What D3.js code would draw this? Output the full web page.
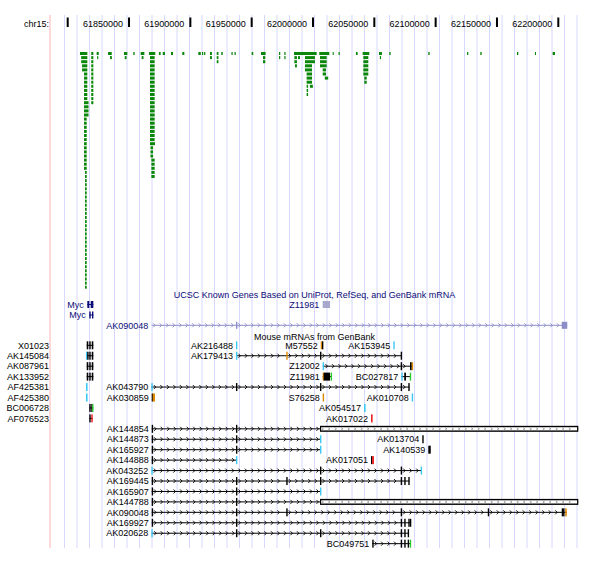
<!DOCTYPE html>
<html><head><meta charset="utf-8">
<script src="https://cdn.jsdelivr.net/npm/d3@7"></script>
<style>
body{margin:0;background:#fff}
text{font-family:"Liberation Sans",Arial,sans-serif;font-size:9px}
</style>
</head><body><svg id="c" width="600" height="576"></svg>
<script>
// ---------- data ----------
const chromName = "chr15:";
const baseKb = 61800; // positions below are kb offsets from this base
const rulerTicks = [61800000, 61850000, 61900000, 61950000, 62000000, 62050000, 62100000, 62150000, 62200000];
const rulerTickLabels = ["", "61850000", "61900000", "61950000", "62000000", "62050000", "62100000", "62150000", "62200000"];

// green stacked track: [startKb, endKb, firstRow, lastRow]
const greenStacks = [
 [10.0,16.0,0,0],[11.0,16.0,1,2],[11.7,16.0,3,4],[13.3,16.0,5,11],[13.3,17.0,12,15],[13.3,15.5,16,28],[14.1,15.5,29,57],
 [19.2,20.9,0,12],[23.6,25.3,0,0],[24.0,24.9,1,1],[32.9,35.9,0,0],[34.5,36.0,1,1],
 [45.9,48.6,0,0],[46.5,48.0,1,1],[53.5,54.6,0,0],[59.5,62.5,0,0],[60.3,61.8,1,1],
 [66.3,71.4,0,0],[67.1,70.9,1,21],[67.1,71.2,22,22],[67.5,69.6,23,25],[68.2,70.9,26,30],
 [74.4,75.8,0,0],[77.5,79.3,0,0],[84.2,85.9,0,0],[93.4,95.1,0,0],
 [106.5,108.5,0,0],[109.5,110.5,0,0],[111.2,112.2,0,0],[116.0,117.6,0,1],
 [121.5,122.9,0,2],[125.2,126.4,0,0],[133.5,134.5,0,0],[136.0,137.0,0,0],
 [150.0,151.3,0,0],[157.6,161.4,0,0],[159.2,161.1,1,2],[172.3,173.3,0,1],[176.6,177.6,0,1],
 [184.5,203.0,0,0],[184.8,186.9,1,2],[185.3,186.9,3,3],[187.8,189.4,1,1],
 [193.5,201.6,1,2],[193.5,199.2,3,4],[194.8,199.2,5,7],[194.8,196.0,8,10],[197.5,199.9,8,8],
 [205.1,213.3,0,0],[205.7,211.2,1,3],[207.9,210.6,4,5],[209.6,212.4,6,6],
 [216.0,216.9,0,0],[220.8,221.8,0,0],[235.0,236.4,0,0],
 [240.5,245.9,0,0],[241.0,245.1,1,5],[241.8,243.8,6,7],
 [253.8,256.2,0,0],[254.5,255.5,1,1],[262.2,263.3,0,0],
 [294.0,295.1,0,0],[325.6,326.6,0,0],[336.4,337.5,0,0],[366.3,367.4,0,0],[381.0,381.8,0,0],[395.4,397.3,0,0]
];

const knownTitle = "UCSC Known Genes Based on UniProt, RefSeq, and GenBank mRNA";
const knownGenes = [
 {name:"Myc", row:0, line:[16.0,20.9], blocks:[[16.0,17.6],[18.75,20.9]], color:"#0c0c78"},
 {name:"Z11981", row:0, line:null, blocks:[[207.9,213.9]], color:"#a8a8cc"},
 {name:"Myc", row:1, line:[17.6,20.9], blocks:[[17.6,18.6],[19.8,20.9]], color:"#0c0c78"},
 {name:"AK090048", row:2, line:[68.5,407.3], blocks:[[137.2,137.9],[402.8,407.3]], color:"#8c8cc8"}
];

const mrnaTitle = "Mouse mRNAs from GenBank";
const mrnaItems = [
 {name:"X01023", row:0, margin:true, line:[15.5,20.9], blocks:[[15.5,16.8,"k"],[17.6,18.6,"k"],[19.6,20.9,"k"]]},
 {name:"AK216488", row:0, blocks:[[137.2,138.0,"c"]]},
 {name:"M57552", row:0, blocks:[[206.3,207.3,"o"],[207.3,208.4,"k"]]},
 {name:"AK153945", row:0, blocks:[[265.5,266.6,"c"]]},
 {name:"AK145084", row:1, margin:true, line:[14.9,20.9], blocks:[[14.9,15.9,"c"],[15.9,16.8,"k"],[17.6,18.6,"k"],[19.6,20.9,"k"]]},
 {name:"AK179413", row:1, line:[137.2,272.3], blocks:[[137.2,138.0,"c"],[178.2,179.0,"o"],[205.7,206.5,"k"],[271.5,272.3,"k"]]},
 {name:"AK087961", row:2, margin:true, line:[15.5,20.9], blocks:[[15.5,16.8,"k"],[17.6,18.6,"k"],[19.6,20.9,"k"]]},
 {name:"Z12002", row:2, line:[207.9,281.3], blocks:[[207.9,209.0,"c"],[271.5,272.3,"k"],[279.1,280.5,"k"],[280.5,281.3,"o"]]},
 {name:"AK133952", row:3, margin:true, line:[15.5,20.9], blocks:[[15.5,16.8,"k"],[17.6,18.6,"k"],[19.6,20.9,"k"]]},
 {name:"Z11981", row:3, line:[207.9,215.3], blocks:[[207.9,208.7,"o"],[208.7,213.9,"k"],[214.4,215.3,"g"]]},
 {name:"BC027817", row:3, line:[272.0,279.7], blocks:[[272.0,272.8,"c"],[274.4,275.8,"k"],[278.9,279.7,"g"]]},
 {name:"AF425381", row:4, margin:true, blocks:[[14.9,16.2,"c"]]},
 {name:"AK043790", row:4, line:[68.2,278.5], blocks:[[68.2,69.0,"c"],[137.2,138.0,"k"],[205.7,206.5,"k"],[271.5,272.3,"k"],[277.7,278.5,"k"]]},
 {name:"AF425380", row:5, margin:true, blocks:[[14.9,16.2,"c"]]},
 {name:"AK030859", row:5, blocks:[[68.5,69.3,"k"],[69.3,71.2,"o"]]},
 {name:"S76258", row:5, blocks:[[207.9,208.9,"o"]]},
 {name:"AK010708", row:5, blocks:[[280.5,281.4,"c"]]},
 {name:"BC006728", row:6, margin:true, line:[17.6,20.9], blocks:[[17.6,18.4,"k"],[19.2,19.9,"k"],[19.9,20.9,"g"]]},
 {name:"AK054517", row:6, blocks:[[241.6,242.9,"c"]]},
 {name:"AF076523", row:7, margin:true, line:[17.6,20.4], blocks:[[17.6,18.6,"k"],[19.2,20.4,"r"]]},
 {name:"AK017022", row:7, blocks:[[247.3,248.6,"r"]]},
 {name:"AK144854", row:8, line:[68.5,416.3], blocks:[[68.5,69.3,"k"],[137.2,138.0,"k"]], big:[205.7,416.3]},
 {name:"AK144873", row:9, line:[68.5,206.5], blocks:[[68.5,69.2,"k"],[137.2,137.9,"k"],[205.7,206.5,"c"]]},
 {name:"AK013704", row:9, blocks:[[289.1,289.9,"k"]]},
 {name:"AK165927", row:10, line:[68.5,206.5], blocks:[[68.5,69.2,"k"],[137.2,138.0,"k"],[205.7,206.5,"c"]]},
 {name:"AK140539", row:10, blocks:[[294.0,296.0,"k"]]},
 {name:"AK144888", row:11, line:[68.5,138.0], blocks:[[68.5,69.2,"k"],[137.2,138.0,"c"]]},
 {name:"AK017051", row:11, blocks:[[247.3,248.2,"k"],[248.2,249.7,"r"]]},
 {name:"AK043252", row:12, line:[68.5,288.6], blocks:[[68.2,69.0,"c"],[205.7,206.5,"k"],[271.5,272.3,"k"],[287.8,288.6,"c"]]},
 {name:"AK169445", row:13, line:[68.5,278.5], blocks:[[68.5,69.2,"k"],[137.2,138.0,"k"],[178.2,179.0,"k"],[205.7,206.5,"k"],[271.5,272.3,"k"],[274.4,275.2,"k"],[277.7,278.5,"k"]]},
 {name:"AK165907", row:14, line:[68.5,206.5], blocks:[[68.5,69.2,"k"],[137.2,138.0,"k"],[205.7,206.5,"c"]]},
 {name:"AK144788", row:15, line:[68.5,416.3], blocks:[[68.5,69.2,"k"],[137.2,138.0,"k"]], big:[205.7,416.3]},
 {name:"AK090048", row:16, line:[68.5,406.9], blocks:[[68.5,69.2,"k"],[137.2,138.0,"k"],[178.2,179.0,"k"],[271.5,272.3,"k"],[342.5,343.3,"k"],[402.8,403.4,"k"],[403.9,404.5,"k"],[405.6,406.9,"o"]]},
 {name:"AK169927", row:17, line:[68.5,279.8], blocks:[[68.5,69.2,"k"],[137.2,138.0,"k"],[271.5,272.3,"k"],[274.4,275.2,"k"],[277.7,278.5,"k"],[279.0,279.8,"k"]]},
 {name:"AK020628", row:18, line:[68.5,278.0], blocks:[[68.2,69.3,"c"],[137.2,138.0,"k"],[205.7,206.5,"k"],[271.5,272.3,"k"],[274.4,275.2,"k"],[277.2,278.0,"k"]]},
 {name:"BC049751", row:19, line:[248.3,279.7], blocks:[[248.3,249.0,"k"],[271.5,272.3,"k"],[274.4,275.2,"k"],[277.2,278.1,"k"],[278.9,279.7,"g"]]}
];
const markColors = {k:"#000000", c:"#3cc8f5", o:"#dd8a00", r:"#ee2020", g:"#2ecc2e"};

// ---------- layout ----------
const svg = d3.select("#c");
const x = d3.scaleLinear().domain([0, 400]).range([67.7, 558.3]);
const bpX = bp => x(bp / 1000 - baseKb);
const dataLeft = 50, dataRight = 579, topY = 15, bottomY = 548;

// guidelines
svg.append("g").selectAll("line").data(d3.range(64.5, 578, 12.5)).join("line")
  .attr("x1", d => d).attr("x2", d => d).attr("y1", topY).attr("y2", bottomY)
  .attr("stroke", "#d8d8ff").attr("stroke-width", 1);
svg.append("line").attr("x1", dataLeft).attr("x2", dataLeft).attr("y1", topY).attr("y2", bottomY)
  .attr("stroke", "#ffb4b4").attr("stroke-width", 1);

// ruler
svg.append("text").attr("x", 49).attr("y", 27).attr("text-anchor", "end").text(chromName);
const rg = svg.append("g");
rg.selectAll("rect").data(rulerTicks).join("rect")
  .attr("x", d => bpX(d) - 1).attr("width", 2).attr("y", 17.5).attr("height", 9.5).attr("fill", "#000");
rg.selectAll("text").data(rulerTicks).join("text")
  .attr("x", d => bpX(d) - 6).attr("y", 27).attr("text-anchor", "end")
  .text((d, i) => rulerTickLabels[i]);

// green stacked track
const rowY0 = 52, rowStep = 4.1, rowH = 3;
const greenRects = [];
greenStacks.forEach(([s, e, r0, r1]) => { for (let r = r0; r <= r1; r++) greenRects.push({s, e, r}); });
svg.append("g").selectAll("rect").data(greenRects).join("rect")
  .attr("x", d => x(d.s)).attr("width", d => Math.max(1, x(d.e) - x(d.s)))
  .attr("y", d => rowY0 + d.r * rowStep).attr("height", rowH).attr("fill", "#0b870b");

// helpers
function chevrons(g, x1, x2, y, color, h) {
  const pts = d3.range(x1 + 3, x2 - 2, 6.5);
  g.selectAll(null).data(pts).join("path")
    .attr("d", p => `M${p - 1.5},${y - h}L${p + 0.5},${y}L${p - 1.5},${y + h}`)
    .attr("fill", "none").attr("stroke", color).attr("stroke-width", 0.9);
}
function drawLine(g, s, e, blocks, y, color) {
  g.append("line").attr("x1", x(s)).attr("x2", x(e)).attr("y1", y).attr("y2", y)
    .attr("stroke", color).attr("stroke-width", 1);
  const edges = [x(s)];
  blocks.slice().sort((a, b) => a[0] - b[0]).forEach(b => { edges.push(x(b[0])); edges.push(x(b[1])); });
  edges.push(x(e));
  for (let i = 0; i < edges.length - 1; i += 2) {
    const a = edges[i], b = edges[i + 1];
    if (b - a > 6) chevrons(g, a, b, y, color, 2);
  }
}

// known genes track
const knownRowY = [304.5, 315, 325.3];
svg.append("text").attr("x", (dataLeft + dataRight) / 2).attr("y", 298).attr("text-anchor", "middle")
  .attr("fill", "#0c0c78").text(knownTitle);
knownGenes.forEach(gn => {
  const g = svg.append("g");
  const y = knownRowY[gn.row];
  const start = gn.line ? gn.line[0] : gn.blocks[0][0];
  if (gn.line) drawLine(g, gn.line[0], gn.line[1], gn.blocks, y, gn.color);
  g.selectAll("rect").data(gn.blocks).join("rect")
    .attr("x", b => x(b[0])).attr("width", b => Math.max(1.4, x(b[1]) - x(b[0])))
    .attr("y", y - 3.5).attr("height", 7).attr("fill", gn.color);
  g.append("text").attr("x", x(start) - 3.5).attr("y", y + 3.2).attr("text-anchor", "end")
    .attr("fill", "#0c0c78").text(gn.name);
});

// mRNA track
const mrnaRowY = r => 345.3 + r * 10.44;
svg.append("text").attr("x", (dataLeft + dataRight) / 2).attr("y", 340).attr("text-anchor", "middle")
  .attr("fill", "#000").text(mrnaTitle);
mrnaItems.forEach(it => {
  const g = svg.append("g");
  const y = mrnaRowY(it.row);
  const blocks = it.big ? it.blocks.concat([[it.big[0], it.big[1], "big"]]) : it.blocks;
  if (it.line) drawLine(g, it.line[0], it.line[1], blocks, y, "#000");
  if (it.big) {
    const bx1 = x(it.big[0]), bx2 = x(it.big[1]);
    g.append("rect").attr("x", bx1).attr("width", bx2 - bx1).attr("y", y - 3).attr("height", 6).attr("fill", "#000");
    g.append("rect").attr("x", bx1 + 1.2).attr("width", bx2 - bx1 - 2.4).attr("y", y - 1.6).attr("height", 3.2).attr("fill", "#fff");
    chevrons(g, bx1, bx2, y, "#9a9a9a", 1.3);
  }
  g.selectAll("rect.b").data(it.blocks).join("rect").attr("class", "b")
    .attr("x", b => x(b[0])).attr("width", b => Math.max(1.4, x(b[1]) - x(b[0])))
    .attr("y", y - 4).attr("height", 8).attr("fill", b => markColors[b[2]]);
  const start = it.line ? Math.min(it.line[0], it.blocks[0][0]) : it.blocks[0][0];
  g.append("text").attr("x", it.margin ? 49 : x(start) - 3).attr("y", y + 3.2)
    .attr("text-anchor", "end").attr("fill", "#000").text(it.name);
});
</script>
</body></html>
